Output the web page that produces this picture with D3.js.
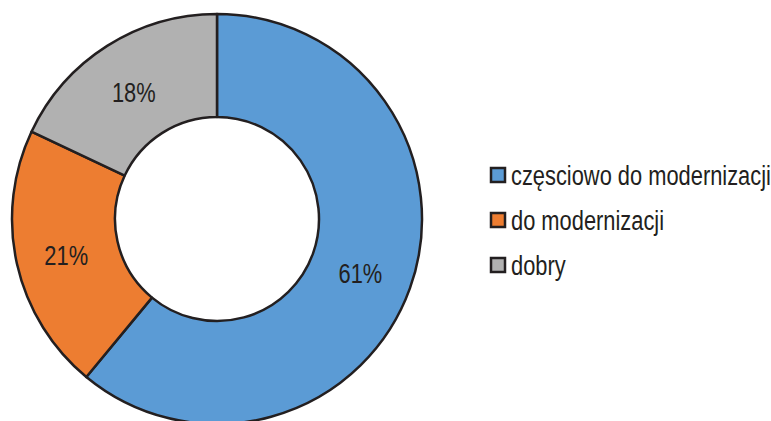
<!DOCTYPE html>
<html>
<head>
<meta charset="utf-8">
<script src="https://cdn.jsdelivr.net/npm/d3@7"></script>
<style>
  body { margin: 0; background: #fff; }
  svg { display: block; }
</style>
</head>
<body>
<div id="chart"></div>
<script>
const categories = ["częsciowo do modernizacji", "do modernizacji", "dobry"];
const values = [61, 21, 18];
const colors = ["#5b9bd5", "#ed7d31", "#b1b1b1"];

const width = 771, height = 421;
const cx = 217, cy = 219;
const outerR = 205, innerR = 102;
// no narrow font installed, so squeeze Liberation Sans horizontally
const fontFam = "'Liberation Sans', Arial, sans-serif";
const squeeze = 0.81;

const svg = d3.select("#chart").append("svg")
    .attr("width", width)
    .attr("height", height);

const pie = d3.pie().sort(null).value(d => d)(values);
const arc = d3.arc().innerRadius(innerR).outerRadius(outerR);

const g = svg.append("g").attr("transform", `translate(${cx},${cy})`);

g.selectAll("path")
    .data(pie)
    .enter().append("path")
    .attr("d", arc)
    .attr("fill", (d, i) => colors[i])
    .attr("stroke", "#231f20")
    .attr("stroke-width", 2.5)
    .attr("stroke-linejoin", "round");

// percent labels at the middle of each ring segment
g.selectAll("text")
    .data(pie)
    .enter().append("text")
    .attr("transform", d => {
        const [x, y] = arc.centroid(d);
        return `translate(${x - 1},${y + 3}) scale(${squeeze},1)`;
    })
    .attr("text-anchor", "middle")
    .attr("dominant-baseline", "central")
    .style("font-family", fontFam)
    .style("font-size", "27px")
    .attr("fill", "#231f20")
    .text(d => d.data + "%");

// legend
const legend = svg.append("g").attr("transform", "translate(491,175)");
categories.forEach((name, i) => {
    legend.append("rect")
        .attr("x", 0).attr("y", i * 45 - 7)
        .attr("width", 14).attr("height", 14)
        .attr("fill", colors[i])
        .attr("stroke", "#231f20")
        .attr("stroke-width", 2.5);
    legend.append("text")
        .attr("transform", `translate(20,${i * 45 + 1}) scale(${squeeze},1)`)
        .attr("dominant-baseline", "central")
        .style("font-family", fontFam)
        .style("font-size", "27px")
        .attr("fill", "#231f20")
        .text(name);
});
</script>
</body>
</html>
